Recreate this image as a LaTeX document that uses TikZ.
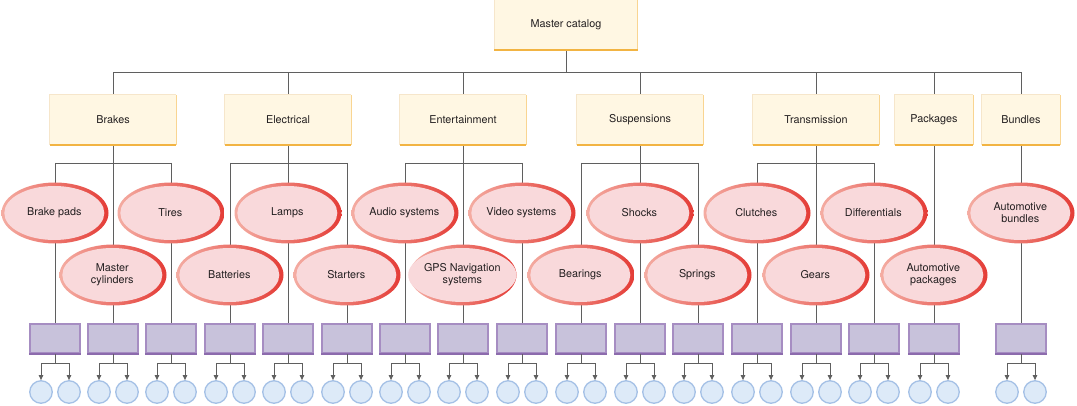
\documentclass[tikz,border=0pt]{standalone}
\usepackage{fontspec}
\setmainfont{TeX Gyre Heros}
\usetikzlibrary{arrows.meta,shapes.geometric}
\pgfdeclarelayer{bg}
\pgfsetlayers{bg,main}
\definecolor{catfill}{HTML}{FFF7E3}
\definecolor{catlight}{HTML}{F6E6CB}
\definecolor{catright}{HTML}{F9D592}
\definecolor{catbot}{HTML}{F2B443}
\definecolor{ellfill}{HTML}{F9D9DB}
\definecolor{ellleft}{HTML}{F4ADA3}
\definecolor{ellright}{HTML}{E43C36}
\definecolor{boxfill}{HTML}{C8C2DB}
\definecolor{boxedge}{HTML}{A68DC2}
\definecolor{boxbot}{HTML}{8C6BAD}
\definecolor{leaffill}{HTML}{DDEAF8}
\definecolor{leafedge}{HTML}{A5C1E6}
\definecolor{wirecol}{HTML}{5F5F5F}
\definecolor{txt}{HTML}{231F20}
\tikzset{
  every node/.style={font=\fontsize{10.8}{12}\selectfont, text=txt, align=center, inner sep=0pt},
  catbox/.style={rectangle, fill=catfill, minimum height=50pt},
  ellout/.style={ellipse, minimum width=107pt, minimum height=61pt, left color=ellleft, right color=ellright},
  ellin/.style={ellipse, fill=ellfill, minimum width=100pt, minimum height=54pt},
  leafbox/.style={rectangle, fill=boxfill, draw=boxedge, line width=1.6pt, minimum width=50pt, minimum height=29pt},
  leaf/.style={circle, fill=leaffill, draw=leafedge, line width=1.3pt, minimum size=22.5pt},
  wire/.style={draw=wirecol, line width=0.8pt},
  arr/.style={wire, -{Triangle[length=5pt,width=4.5pt]}},
}
\newcommand\catnode[5]{%
  \node[catbox, minimum width=#4pt] (#1) at (#2,#3) {#5};
  \draw[catlight, line width=1.2pt] (#1.south west) -- (#1.north west) -- (#1.north east);
  \draw[catright, line width=1.2pt] (#1.north east) -- (#1.south east);
  \draw[catbot, line width=2pt] (#1.south west) -- (#1.south east);
}
\newcommand\ellnode[4]{%
  \node[ellout] (#1-rim) at (#2,#3) {};
  \node[ellin] (#1) at (#2-0.7,#3) {#4};
}
\newcommand\leafcol[2]{%
  \node[leafbox] (#1) at (#2,338.5) {};
  \draw[boxbot, line width=1.6pt] (#1.south west) -- (#1.south east);
  \node[leaf] (#1-l) at (#2-14,392) {};
  \node[leaf] (#1-r) at (#2+14,392) {};
  \coordinate (#1-s) at (#2,363);
  \draw[wire] (#1.south) -- (#1-s);
  \draw[arr] (#1-s) -| (#1-l.north);
  \draw[arr] (#1-s) -| (#1-r.north);
}
\begin{document}
\begin{tikzpicture}[x=1pt,y=-1pt]
\useasboundingbox (0,0) rectangle (1077,406);
% master and categories
\catnode{master}{566}{25}{143}{Master catalog}
\catnode{brakes}{113}{120}{126}{Brakes}
\catnode{electrical}{288}{120}{126}{Electrical}
\catnode{entertainment}{463}{120}{126}{Entertainment}
\catnode{suspensions}{640}{120}{126}{Suspensions}
\catnode{transmission}{816}{120}{126}{Transmission}
\catnode{packages}{934}{120}{78}{Packages}
\catnode{bundles}{1021}{120}{78}{Bundles}
% leaf columns
\leafcol{k1}{55}
\leafcol{k2}{113}
\leafcol{k3}{171}
\leafcol{k4}{230}
\leafcol{k5}{288}
\leafcol{k6}{347}
\leafcol{k7}{405}
\leafcol{k8}{463}
\leafcol{k9}{522}
\leafcol{k10}{581}
\leafcol{k11}{640}
\leafcol{k12}{698}
\leafcol{k13}{757}
\leafcol{k14}{816}
\leafcol{k15}{874}
\leafcol{k16}{934}
\leafcol{k17}{1021}
% ellipses
\ellnode{brakepads}{55}{213}{Brake pads}
\ellnode{tires}{171}{213}{Tires}
\ellnode{mastercyl}{113}{275}{Master\\cylinders}
\ellnode{lamps}{288}{213}{Lamps}
\ellnode{batteries}{230}{275}{Batteries}
\ellnode{starters}{347}{275}{Starters}
\ellnode{audio}{405}{213}{Audio systems}
\ellnode{video}{522}{213}{Video systems}
\ellnode{gps}{463}{275}{GPS Navigation\\systems}
\ellnode{shocks}{640}{213}{Shocks}
\ellnode{bearings}{581}{275}{Bearings}
\ellnode{springs}{698}{275}{Springs}
\ellnode{clutches}{757}{213}{Clutches}
\ellnode{differentials}{874}{213}{Differentials}
\ellnode{gears}{816}{275}{Gears}
\ellnode{autopack}{934}{275}{Automotive\\packages}
\ellnode{autobund}{1021}{213}{Automotive\\bundles}
% connectors
\coordinate (busl) at (113,72);
\coordinate (busr) at (1021,72);
\begin{pgfonlayer}{bg}
\draw[wire] (master.south) -- (master.south |- busl);
\draw[wire] (busl) -- (busr);
\foreach \c in {brakes,electrical,entertainment,suspensions,transmission,packages,bundles}
  \draw[wire] (\c.north) -- (\c.north |- busl);
\foreach \c/\a/\b/\d in {brakes/k1/k2/k3, electrical/k4/k5/k6, entertainment/k7/k8/k9, suspensions/k10/k11/k12, transmission/k13/k14/k15}{
  \coordinate (\c-bl) at (\a.north |- 0,163);
  \coordinate (\c-br) at (\d.north |- 0,163);
  \draw[wire] (\c.south) -- (\b.north);
  \draw[wire] (\c-bl) -- (\c-br);
  \draw[wire] (\c-bl) -- (\a.north);
  \draw[wire] (\c-br) -- (\d.north);
}
\draw[wire] (packages.south) -- (k16.north);
\draw[wire] (bundles.south) -- (k17.north);
\end{pgfonlayer}
\end{tikzpicture}
\end{document}
